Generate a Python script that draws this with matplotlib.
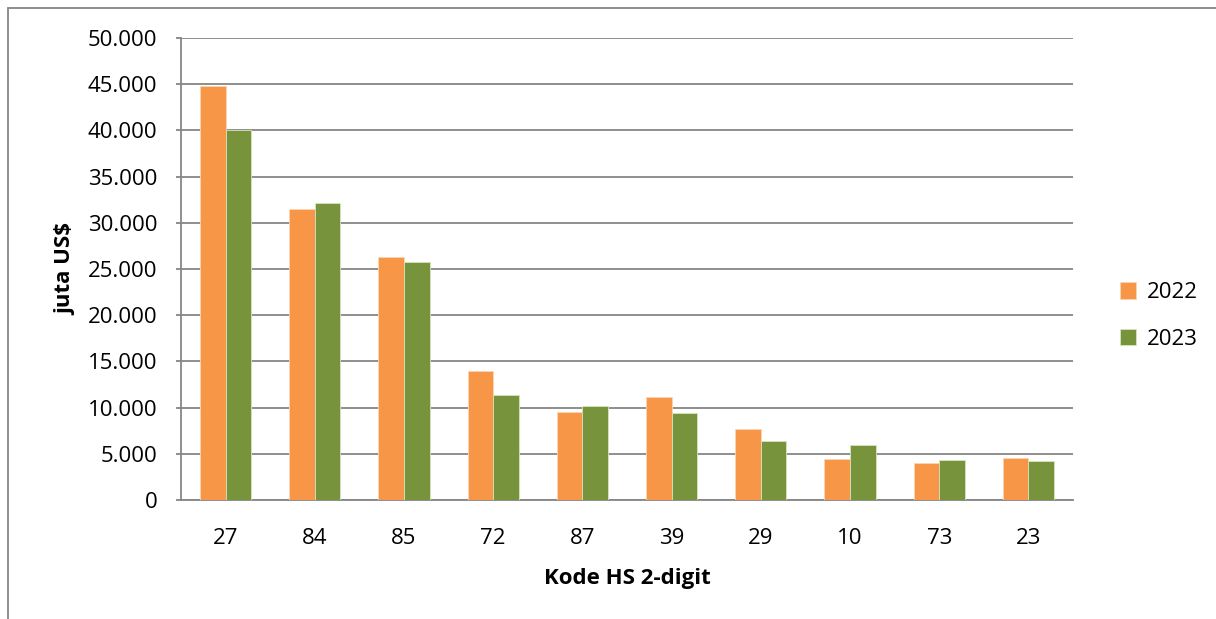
import numpy as np
import matplotlib.pyplot as plt
from matplotlib.patches import Rectangle
from matplotlib.ticker import FuncFormatter

# data (juta US$)
kode_hs = ['27', '84', '85', '72', '87', '39', '29', '10', '73', '23']
nilai_2022 = [44800, 31500, 26330, 13930, 9490, 11110, 7660, 4400, 3960, 4540]
nilai_2023 = [40070, 32110, 25720, 11400, 10170, 9380, 6340, 5900, 4290, 4250]
tahun = ['2022', '2023']

ORANGE = '#F79646'
GREEN = '#77933C'
GRID = '#868686'
FS = 16

plt.rcParams['font.family'] = ['Open Sans', 'DejaVu Sans']

fig = plt.figure(figsize=(12.16, 6.19), dpi=100)
ax = fig.add_axes([181/1216, 1 - 500/619, (1073 - 181)/1216, (500 - 38)/619])

x = np.arange(len(kode_hs))
w = 0.286
ax.bar(x - w/2, nilai_2022, w, color=ORANGE, edgecolor='#FBD5B5', linewidth=0.6, label=tahun[0], zorder=3)
ax.bar(x + w/2, nilai_2023, w, color=GREEN, edgecolor='#D7E4BD', linewidth=0.6, label=tahun[1], zorder=3)

ax.set_xlim(-0.5, len(kode_hs) - 0.5)
ax.set_ylim(0, 50000)
ax.set_yticks(np.arange(0, 50001, 5000))
ax.yaxis.set_major_formatter(FuncFormatter(lambda v, p: f'{int(v):,}'.replace(',', '.')))
ax.set_xticks(x)
ax.set_xticklabels(kode_hs)

ax.grid(axis='y', color=GRID, linewidth=1.3, zorder=0)
for s in ['top', 'right']:
    ax.spines[s].set_visible(False)
for s in ['left', 'bottom']:
    ax.spines[s].set_color(GRID)
    ax.spines[s].set_linewidth(1.3)

ax.tick_params(axis='y', length=3.6, color=GRID, width=1.3, labelsize=FS, pad=13.5)
ax.tick_params(axis='x', length=0, labelsize=FS, pad=20.5)

ax.set_xlabel('Kode HS 2-digit', fontsize=FS, fontweight='bold', labelpad=13.5)
ax.set_ylabel('juta US$', fontsize=FS, fontweight='bold', labelpad=8)

leg = ax.legend(loc='center left', bbox_to_anchor=(1.03, 0.398), frameon=False,
                fontsize=FS, handlelength=0.75, handleheight=0.75, labelspacing=1.15,
                handletextpad=0.45)

# outer chart border (extends past the screenshot edges)
fig.patches.append(Rectangle((8/1216, -0.1), 1.2, 1 - 8/619 + 0.1,
                             transform=fig.transFigure, fill=False,
                             edgecolor=GRID, linewidth=1.3))

fig.savefig('out.png', dpi=100)
